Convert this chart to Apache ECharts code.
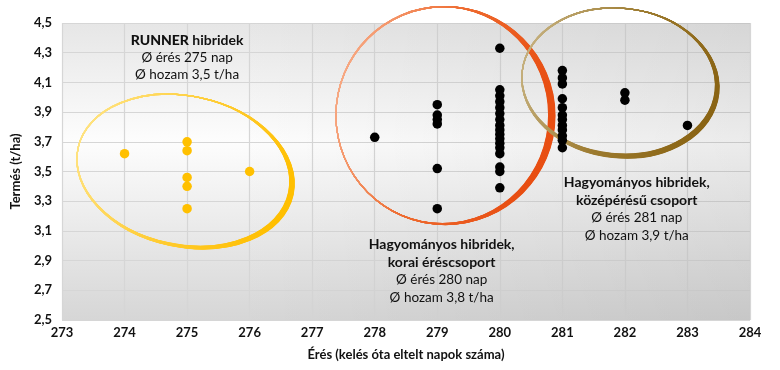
<!DOCTYPE html>
<html><head><meta charset="utf-8">
<script src="https://cdn.jsdelivr.net/npm/echarts@6/dist/echarts.min.js"></script>
<style>html,body{margin:0;padding:0;background:#fff}#c{width:780px;height:370px}</style>
</head><body><div id="c"></div>
<script>
// ---- axis ticks ----
const xTicks = [273, 274, 275, 276, 277, 278, 279, 280, 281, 282, 283, 284];
const yTicks = [2.5, 2.7, 2.9, 3.1, 3.3, 3.5, 3.7, 3.9, 4.1, 4.3, 4.5];

// ---- RUNNER hybrids (yellow) ----
const runnerX = [274, 275, 275, 275, 275, 275, 276];
const runnerY = [3.62, 3.70, 3.64, 3.46, 3.40, 3.25, 3.50];

// ---- conventional hybrids (black) ----
const hybridX = [
  278,
  279, 279, 279, 279, 279, 279,
  280, 280, 280, 280, 280, 280, 280, 280, 280, 280, 280, 280, 280, 280, 280, 280, 280,
  281, 281, 281, 281, 281, 281, 281, 281, 281, 281, 281, 281,
  282, 282,
  283
];
const hybridY = [
  3.73,
  3.95, 3.88, 3.85, 3.82, 3.52, 3.25,
  4.33, 4.05, 4.01, 3.97, 3.93, 3.89, 3.85, 3.81, 3.78, 3.75, 3.72, 3.69, 3.66, 3.62, 3.53, 3.50, 3.39,
  4.18, 4.13, 4.09, 3.99, 3.93, 3.88, 3.85, 3.81, 3.78, 3.74, 3.71, 3.66,
  4.03, 3.98,
  3.81
];

// ---- group ellipses (annotation, in data units) ----
const ellipseCx = [274.94, 279.08, 281.90];
const ellipseCy = [3.51, 3.88, 4.11];
const ellipseRx = [1.72, 1.70, 1.55];
const ellipseRy = [0.50, 0.73, 0.49];
const ellipseTilt = [12, 0, 6];

// ---- annotation texts ----
const annX = [275, 279.07, 282.19];
const annY = [4.444, 3.065, 3.482];
const annTitle1 = ['RUNNER', 'Hagyományos hibridek,', 'Hagyományos hibridek,'];
const annTitle2 = ['hibridek', 'korai éréscsoport', 'középérésű csoport'];
const annLine1 = ['Ø érés 275 nap', 'Ø érés 280 nap', 'Ø érés 281 nap'];
const annLine2 = ['Ø hozam 3,5 t/ha', 'Ø hozam 3,8 t/ha', 'Ø hozam 3,9 t/ha'];

// ---- styles ----
const FONT = 'Lato';
const ellipseStyle = [
  { gx: 2.5, gy: 1.2, light: '#ffe58a', mid: '#ffcc33', dark: '#ffbf00' },
  { gx: 3.2, gy: 0.6, light: '#f9b99a', mid: '#ee6a2e', dark: '#e84e12' },
  { gx: 2.0, gy: 2.0, light: '#cbb88a', mid: '#9c7a2e', dark: '#8a6414' }
];

const runnerData = runnerX.map((x, i) => [x, runnerY[i]]);
const hybridData = hybridX.map((x, i) => [x, hybridY[i]]);
const ellipseData = ellipseCx.map((x, i) => [x, ellipseCy[i], ellipseRx[i], ellipseRy[i], ellipseTilt[i]]);
const annData = annX.map((x, i) => [x, annY[i]]);

const fmt = v => (Math.round(v * 10) / 10).toFixed(1).replace('.', ',');

const chart = echarts.init(document.getElementById('c'), null, { renderer: 'canvas' });
chart.setOption({
  animation: false,
  backgroundColor: '#ffffff',
  grid: {
    left: 62, right: 30, top: 23, bottom: 50,
    show: true, borderWidth: 0,
    backgroundColor: {
      type: 'linear', x: 0, y: 0, x2: 0, y2: 1,
      colorStops: [
        { offset: 0, color: '#e6e6e6' },
        { offset: 0.4, color: '#fdfdfd' },
        { offset: 1, color: '#d6d6d6' }
      ]
    }
  },
  xAxis: {
    type: 'value', min: xTicks[0], max: xTicks[xTicks.length - 1], interval: 1,
    name: 'Érés (kelés óta eltelt napok száma)', nameLocation: 'middle', nameGap: 28,
    nameTextStyle: { fontFamily: FONT, fontWeight: 'bold', fontSize: 13, color: '#111' },
    axisLine: { show: false }, axisTick: { show: false },
    axisLabel: { fontFamily: FONT, fontWeight: 'bold', fontSize: 13, color: '#111', margin: 6 },
    splitLine: { show: true, lineStyle: { color: '#d6d6d6', width: 1.2 } }
  },
  yAxis: {
    type: 'value', min: yTicks[0], max: yTicks[yTicks.length - 1], interval: 0.2,
    name: 'Termés (t/ha)', nameLocation: 'middle', nameGap: 40, nameRotate: 90,
    nameTextStyle: { fontFamily: FONT, fontWeight: 'bold', fontSize: 13, color: '#111' },
    axisLine: { show: false }, axisTick: { show: false },
    axisLabel: { fontFamily: FONT, fontWeight: 'bold', fontSize: 13, color: '#111', margin: 10, formatter: fmt },
    splitLine: { show: true, lineStyle: { color: '#d6d6d6', width: 1.2 } }
  },
  series: [
    {
      type: 'custom', name: 'shade', data: [[0]], clip: false, z: 0, silent: true,
      renderItem: function (params, api) {
        const cs = params.coordSys;
        return {
          type: 'rect', shape: { x: cs.x, y: cs.y, width: cs.width, height: cs.height },
          style: {
            fill: {
              type: 'linear', x: 0, y: 0, x2: 1, y2: 0,
              colorStops: [
                { offset: 0, color: 'rgba(0,0,0,0)' },
                { offset: 0.25, color: 'rgba(0,0,0,0)' },
                { offset: 1, color: 'rgba(0,0,0,0.07)' }
              ]
            }
          }
        };
      }
    },
    {
      type: 'custom', name: 'ellipses', data: ellipseData, clip: false, z: 1, silent: true,
      renderItem: function (params, api) {
        const i = params.dataIndex;
        const c = api.coord([api.value(0), api.value(1)]);
        const s = api.size([api.value(2), api.value(3)]);
        const st = ellipseStyle[i];
        const grad = {
          type: 'linear', x: 0, y: 0, x2: 1, y2: 0.3,
          colorStops: [
            { offset: 0, color: st.light },
            { offset: 0.55, color: st.mid },
            { offset: 1, color: st.dark }
          ]
        };
        const children = [];
        const N = 16;
        for (let k = 0; k <= N; k++) {
          const t = k / N;
          children.push({
            type: 'ellipse',
            shape: { cx: st.gx * t, cy: st.gy * t, rx: s[0] + st.gx * t, ry: s[1] + st.gy * t },
            style: { fill: 'none', stroke: grad, lineWidth: 1.1 }
          });
        }
        return { type: 'group', x: c[0], y: c[1], rotation: -api.value(4) * Math.PI / 180, children: children };
      }
    },
    {
      type: 'scatter', name: 'RUNNER', data: runnerData, symbolSize: 9.5, z: 3,
      itemStyle: { color: '#ffc000', opacity: 1 }
    },
    {
      type: 'scatter', name: 'Hagyományos', data: hybridData, symbolSize: 9.5, z: 3,
      itemStyle: { color: '#000000', opacity: 1 }
    },
    {
      type: 'custom', name: 'labels', data: annData, clip: false, z: 4, silent: true,
      renderItem: function (params, api) {
        const i = params.dataIndex;
        const c = api.coord([api.value(0), api.value(1)]);
        let text;
        if (i === 0) {
          text = '{k|' + annTitle1[i] + '}{b| ' + annTitle2[i] + '}\n{r|' + annLine1[i] + '}\n{r|' + annLine2[i] + '}';
        } else {
          text = '{b|' + annTitle1[i] + '}\n{b|' + annTitle2[i] + '}\n{r|' + annLine1[i] + '}\n{r|' + annLine2[i] + '}';
        }
        return {
          type: 'text', x: c[0], y: c[1],
          style: {
            text: text, align: 'center', verticalAlign: 'top', fill: '#111',
            rich: {
              k: { fontFamily: FONT, fontWeight: 900, fontSize: 14, lineHeight: 17.5, fill: '#111' },
              b: { fontFamily: FONT, fontWeight: 'bold', fontSize: 14, lineHeight: 17.5, fill: '#111' },
              r: { fontFamily: FONT, fontWeight: 'normal', fontSize: 13.5, lineHeight: 17.5, fill: '#111' }
            }
          }
        };
      }
    }
  ]
});
</script>
</body></html>
